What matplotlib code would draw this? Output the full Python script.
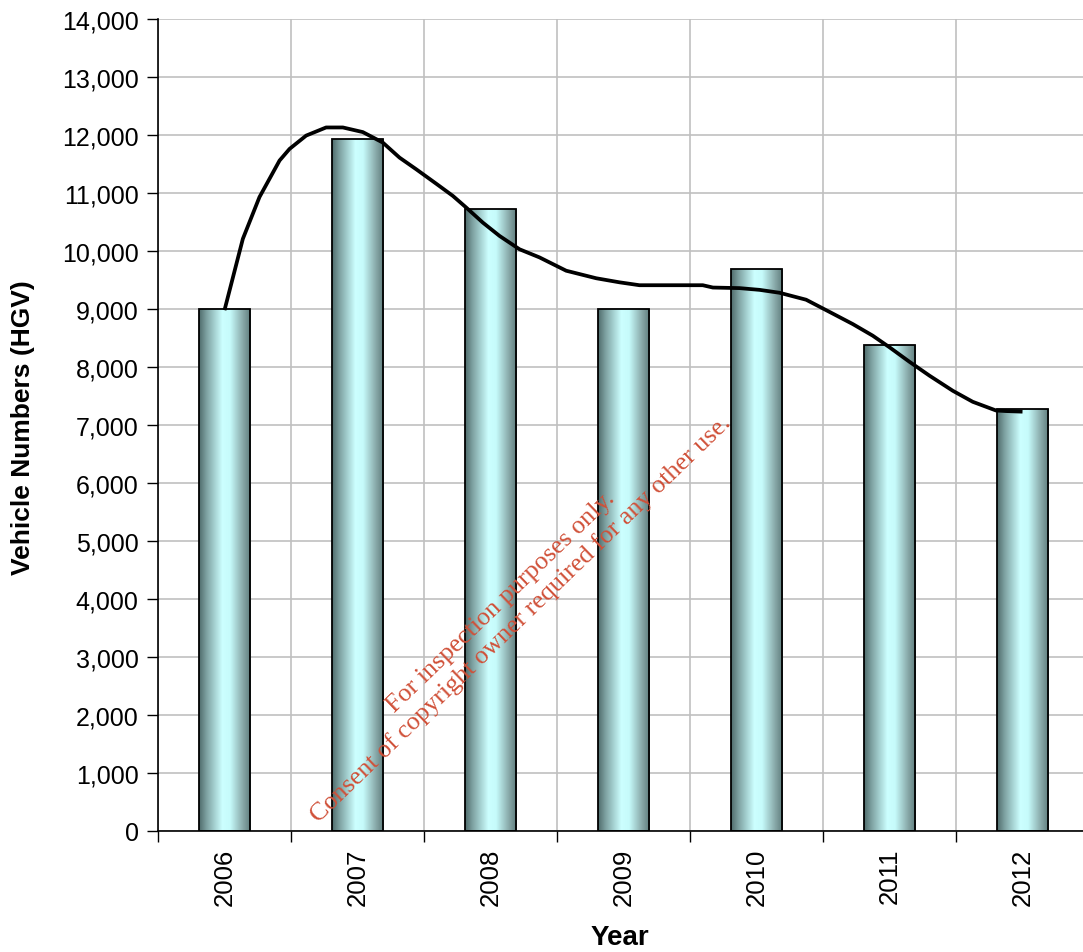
import matplotlib
matplotlib.use("Agg")
import matplotlib.pyplot as plt
import numpy as np
from matplotlib.colors import LinearSegmentedColormap
from matplotlib.ticker import FuncFormatter, MultipleLocator, FixedLocator

years = ["2006", "2007", "2008", "2009", "2010", "2011", "2012"]
vehicles = [9000, 11930, 10720, 9000, 9690, 8380, 7280]

# smoothed trend line (x = category index)
trend_x = [0.0, 0.138, 0.263, 0.414, 0.489, 0.614, 0.764, 0.890, 1.040, 1.190,
           1.316, 1.441, 1.592, 1.717, 1.817, 1.942, 2.068, 2.218, 2.368, 2.569,
           2.795, 2.970, 3.120, 3.596, 3.672, 3.872, 4.023, 4.173, 4.373, 4.549,
           4.724, 4.874, 5.000, 5.150, 5.301, 5.476, 5.626, 5.801, 5.877, 6.0]
trend_y = [8980, 10210, 10930, 11560, 11760, 11990, 12130, 12130, 12050, 11870,
           11610, 11410, 11160, 10950, 10750, 10490, 10260, 10030, 9890, 9660,
           9530, 9460, 9410, 9410, 9370, 9360, 9330, 9280, 9160, 8950,
           8740, 8540, 8340, 8090, 7850, 7590, 7400, 7250, 7240, 7230]

W, H = 1083, 953
fig = plt.figure(figsize=(W / 100, H / 100), dpi=100)
ax = fig.add_axes([158 / W, (H - 832) / H, (1089 - 158) / W, 812 / H])

font = "Liberation Sans"
x = np.arange(len(years))
bars = ax.bar(x, vehicles, width=0.39, facecolor="none", edgecolor="black",
              linewidth=1.3, zorder=3)

cmap = LinearSegmentedColormap.from_list(
    "cyl", [(0.0, "#4f6b6b"), (0.15, "#7fa3a3"), (0.45, "#ccffff"),
            (0.6, "#c6fbfb"), (0.85, "#88a8a8"), (1.0, "#5e7c7c")])
grad = np.linspace(0, 1, 256).reshape(1, -1)
for b in bars:
    bx, by = b.get_x(), b.get_y()
    bw, bh = b.get_width(), b.get_height()
    im = ax.imshow(grad, cmap=cmap, aspect="auto", extent=[bx, bx + bw, by, by + bh],
                   zorder=2, interpolation="bilinear")
    im.set_clip_path(b)

ax.plot(trend_x, trend_y, color="black", linewidth=2.7, zorder=4, solid_capstyle="butt",
        solid_joinstyle="round")

ax.set_xlim(-0.5, 6.5)
ax.set_ylim(0, 14000)
ax.yaxis.set_major_locator(MultipleLocator(1000))
ax.yaxis.set_major_formatter(FuncFormatter(lambda v, p: f"{int(v):,}"))
ax.set_xticks(x)
ax.set_xticklabels(years, rotation=90, fontsize=18.5, fontfamily=font)
ax.xaxis.set_minor_locator(FixedLocator(np.arange(-0.5, 7, 1.0)))
ax.tick_params(axis="x", which="major", length=0, pad=12)
ax.tick_params(axis="x", which="minor", length=8, width=1, color="black", direction="out")
ax.tick_params(axis="y", which="major", length=8, width=1, direction="out", pad=6,
               labelsize=18)
for lab in ax.get_yticklabels():
    lab.set_fontfamily(font)

ax.grid(True, axis="y", which="major", color="#c0c0c0", linewidth=1.2, zorder=0)
ax.grid(True, axis="x", which="minor", color="#c0c0c0", linewidth=1.2, zorder=0)
ax.set_axisbelow(True)
for s in ["top", "right"]:
    ax.spines[s].set_visible(False)
ax.spines["left"].set_linewidth(1.2)
ax.spines["bottom"].set_linewidth(1.2)

fig.text(23 / W, 1 - 428 / H, "Vehicle Numbers (HGV)", rotation=90, ha="center",
         va="center", fontsize=19, fontweight="bold", fontfamily=font)
fig.text(620 / W, 1 - 938 / H, "Year", ha="center", va="center", fontsize=20,
         fontweight="bold", fontfamily=font)

wm = "#d05038"
fig.text(501 / W, 1 - 602 / H, "For inspection purposes only.", rotation=44,
         rotation_mode="anchor", ha="center", va="center", fontsize=18.8,
         color=wm, fontfamily="Liberation Serif", zorder=10)
fig.text(521 / W, 1 - 619 / H, "Consent of copyright owner required for any other use.",
         rotation=44, rotation_mode="anchor", ha="center", va="center", fontsize=18.8,
         color=wm, fontfamily="Liberation Serif", zorder=10)

fig.savefig("out.png", dpi=100)
